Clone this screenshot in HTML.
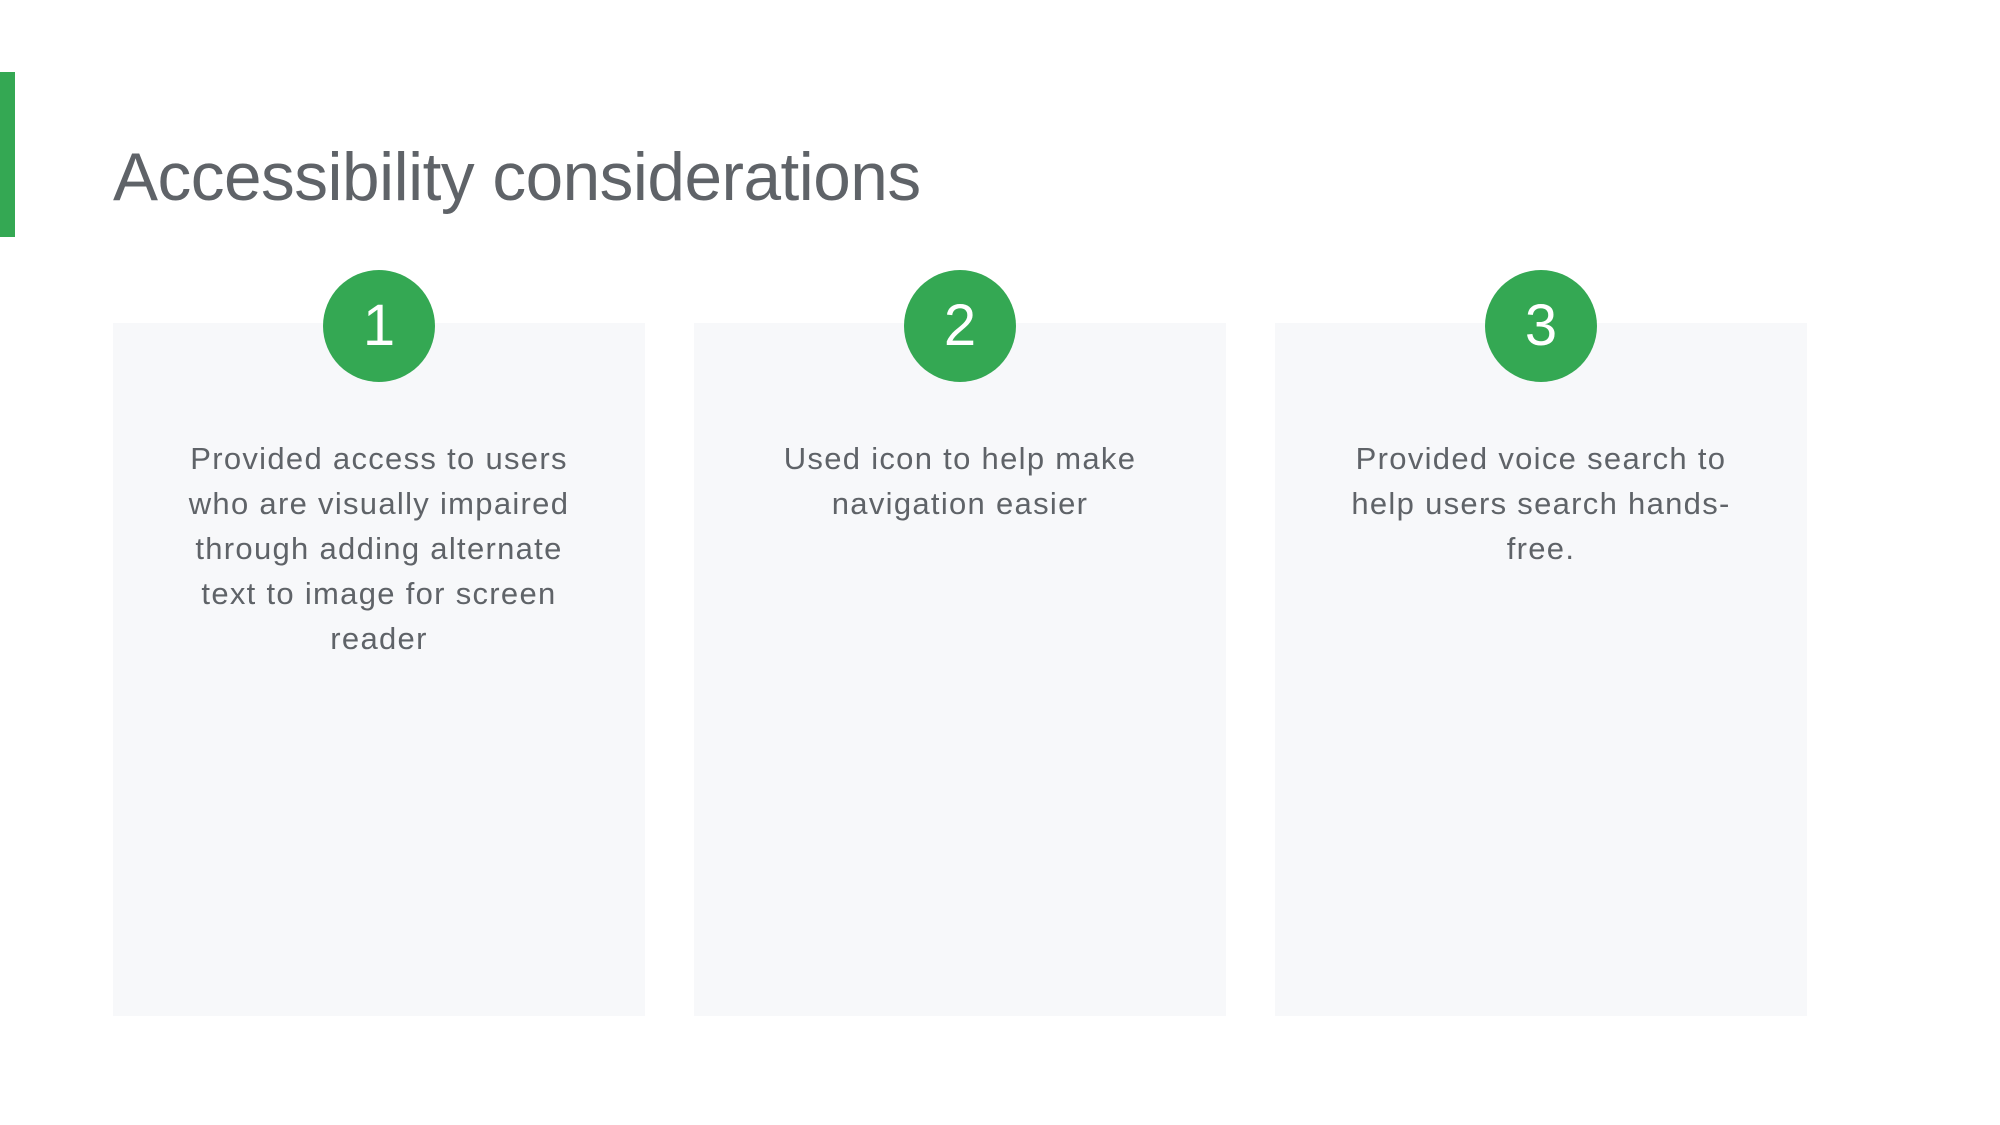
<!DOCTYPE html>
<html><head><meta charset="utf-8"><style>
body{margin:0;width:2000px;height:1125px;background:#fff;position:relative;overflow:hidden;font-family:"Liberation Sans",sans-serif}
.bar{position:absolute;left:0;top:72px;width:15px;height:165px;background:#34a853}
h1{position:absolute;left:113px;top:133px;margin:0;font-weight:400;font-size:67.5px;line-height:90px;color:#5f6368;letter-spacing:-0.5px}
.card{position:absolute;top:323px;width:532px;height:693px;background:#f7f8fa}
.c{position:absolute;top:270px;width:112px;height:112px;border-radius:50%;background:#34a853;color:#fff;font-size:58px;line-height:112px;text-align:center}
.t{position:absolute;top:436px;width:532px;text-align:center;font-size:31px;line-height:45px;color:#5f6368;letter-spacing:1.3px}
</style></head><body>
<div class="bar"></div>
<h1>Accessibility considerations</h1>
<div class="card" style="left:113px"></div>
<div class="card" style="left:694px"></div>
<div class="card" style="left:1275px"></div>
<div class="c" style="left:323px">1</div>
<div class="c" style="left:904px">2</div>
<div class="c" style="left:1485px">3</div>
<div class="t" style="left:113px">Provided access to users<br>who are visually impaired<br>through adding alternate<br>text to image for screen<br>reader</div>
<div class="t" style="left:694px">Used icon to help make<br>navigation easier</div>
<div class="t" style="left:1275px">Provided voice search to<br>help users search hands-<br>free.</div>
</body></html>
